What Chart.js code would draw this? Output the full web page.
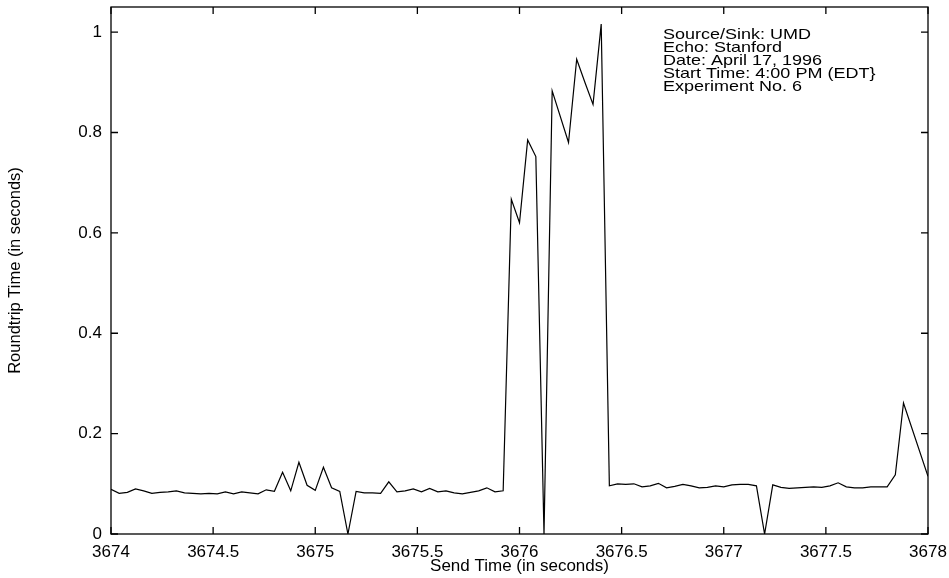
<!DOCTYPE html>
<html>
<head>
<meta charset="utf-8">
<script src="https://cdn.jsdelivr.net/npm/chart.js@4"></script>
<style>
  body { margin: 0; background: #fff; }
  #wrap { width: 949px; height: 578px; }
</style>
</head>
<body>
<div id="wrap"><canvas id="rttChart"></canvas></div>
<script>
let sendTimes = [
  3674.00, 3674.04, 3674.08, 3674.12, 3674.16, 3674.20, 3674.24, 3674.28, 3674.32, 3674.36,
  3674.40, 3674.44, 3674.48, 3674.52, 3674.56, 3674.60, 3674.64, 3674.68, 3674.72, 3674.76,
  3674.80, 3674.84, 3674.88, 3674.92, 3674.96, 3675.00, 3675.04, 3675.08, 3675.12, 3675.16,
  3675.20, 3675.24, 3675.28, 3675.32, 3675.36, 3675.40, 3675.44, 3675.48, 3675.52, 3675.56,
  3675.60, 3675.64, 3675.68, 3675.72, 3675.76, 3675.80, 3675.84, 3675.88, 3675.92, 3675.96,
  3676.00, 3676.04, 3676.08, 3676.12, 3676.16, 3676.24, 3676.28, 3676.32, 3676.36, 3676.40,
  3676.44, 3676.48, 3676.52, 3676.56, 3676.60, 3676.64, 3676.68, 3676.72, 3676.76, 3676.80,
  3676.84, 3676.88, 3676.92, 3676.96, 3677.00, 3677.04, 3677.08, 3677.12, 3677.16, 3677.20,
  3677.24, 3677.28, 3677.32, 3677.36, 3677.40, 3677.44, 3677.48, 3677.52, 3677.56, 3677.60,
  3677.64, 3677.68, 3677.72, 3677.76, 3677.80, 3677.84, 3677.88, 3678.00
];
let roundTrip = [
  0.089, 0.081, 0.083, 0.090, 0.086, 0.081, 0.083, 0.084, 0.086, 0.082,
  0.081, 0.080, 0.081, 0.080, 0.084, 0.080, 0.084, 0.082, 0.080, 0.088,
  0.085, 0.123, 0.086, 0.143, 0.097, 0.087, 0.133, 0.092, 0.085, 0.000,
  0.085, 0.082, 0.082, 0.081, 0.104, 0.084, 0.086, 0.090, 0.084, 0.091,
  0.084, 0.086, 0.082, 0.080, 0.083, 0.086, 0.092, 0.084, 0.086, 0.667,
  0.620, 0.785, 0.752, 0.000, 0.883, 0.780, 0.946, 0.900, 0.856, 1.016,
  0.096, 0.100, 0.099, 0.100, 0.094, 0.096, 0.101, 0.092, 0.095, 0.099,
  0.096, 0.092, 0.093, 0.096, 0.094, 0.098, 0.099, 0.099, 0.096, 0.000,
  0.098, 0.093, 0.091, 0.092, 0.093, 0.094, 0.093, 0.096, 0.102, 0.094,
  0.092, 0.092, 0.094, 0.094, 0.094, 0.118, 0.261, 0.115
];
let xTicks = [3674, 3674.5, 3675, 3675.5, 3676, 3676.5, 3677, 3677.5, 3678];
let yTicks = [0, 0.2, 0.4, 0.6, 0.8, 1];
let infoLines = [
  "Source/Sink: UMD",
  "Echo: Stanford",
  "Date: April 17, 1996",
  "Start Time: 4:00 PM (EDT}",
  "Experiment No. 6"
];

let points = sendTimes.map(function(t, i) { return { x: t, y: roundTrip[i] }; });

// gnuplot style frame with inward ticks on all four sides
let framePlugin = {
  id: "frame",
  afterDraw: function(chart) {
    let ctx = chart.ctx;
    let a = chart.chartArea;
    let xs = chart.scales.x, ys = chart.scales.y;
    let len = 7;
    ctx.save();
    ctx.strokeStyle = "#000";
    ctx.lineWidth = 1.3;
    ctx.strokeRect(a.left, a.top, a.right - a.left, a.bottom - a.top);
    ctx.beginPath();
    xTicks.forEach(function(v) {
      let px = xs.getPixelForValue(v);
      ctx.moveTo(px, a.bottom); ctx.lineTo(px, a.bottom - len);
      ctx.moveTo(px, a.top); ctx.lineTo(px, a.top + len);
    });
    yTicks.forEach(function(v) {
      let py = ys.getPixelForValue(v);
      ctx.moveTo(a.left, py); ctx.lineTo(a.left + len, py);
      ctx.moveTo(a.right, py); ctx.lineTo(a.right - len, py);
    });
    ctx.stroke();

    // info text block, slightly widened like the original
    ctx.fillStyle = "#000";
    ctx.font = "15px 'Liberation Sans', Arial, sans-serif";
    ctx.textBaseline = "alphabetic";
    infoLines.forEach(function(line, i) {
      ctx.save();
      ctx.translate(663, 39 + i * 13);
      ctx.scale(1.2, 1);
      ctx.fillText(line, 0, 0);
      ctx.restore();
    });
    ctx.restore();
  }
};

let rttChart = new Chart(document.getElementById("rttChart").getContext("2d"), {
  type: "line",
  data: {
    datasets: [{
      label: "",
      data: points,
      borderColor: "#000",
      borderWidth: 1.2,
      pointRadius: 0,
      tension: 0,
      fill: false
    }]
  },
  options: {
    responsive: true,
    maintainAspectRatio: false,
    animation: false,
    layout: { padding: { left: 0, top: 7, right: 21, bottom: 0 } },
    plugins: {
      legend: { display: false },
      title: { display: false },
      tooltip: { enabled: false }
    },
    scales: {
      x: {
        type: "linear",
        min: 3674,
        max: 3678,
        afterBuildTicks: function(scale) {
          scale.ticks = xTicks.map(function(v) { return { value: v }; });
        },
        afterFit: function(scale) {
          scale.height = 44;
          scale.paddingLeft = 0;
          scale.paddingRight = 0;
        },
        grid: { display: false, drawTicks: false },
        border: { display: false },
        ticks: {
          color: "#000",
          padding: 8,
          maxRotation: 0,
          font: { family: "'Liberation Sans', Arial, sans-serif", size: 17 },
          callback: function(value) { return String(value); }
        },
        title: {
          display: true,
          text: "Send Time (in seconds)",
          color: "#000",
          padding: { top: 0, bottom: 1 },
          font: { family: "'Liberation Sans', Arial, sans-serif", size: 17 }
        }
      },
      y: {
        min: 0,
        max: 1.05,
        afterBuildTicks: function(scale) {
          scale.ticks = yTicks.map(function(v) { return { value: v }; });
        },
        afterFit: function(scale) {
          scale.width = 111;
          scale.paddingTop = 0;
          scale.paddingBottom = 0;
        },
        grid: { display: false, drawTicks: false },
        border: { display: false },
        ticks: {
          color: "#000",
          padding: 9,
          font: { family: "'Liberation Sans', Arial, sans-serif", size: 17 },
          callback: function(value) { return String(value); }
        },
        title: {
          display: true,
          text: "Roundtrip Time (in seconds)",
          color: "#000",
          padding: { top: 6, bottom: 0 },
          font: { family: "'Liberation Sans', Arial, sans-serif", size: 16.5 }
        }
      }
    }
  },
  plugins: [framePlugin]
});
</script>
</body>
</html>
